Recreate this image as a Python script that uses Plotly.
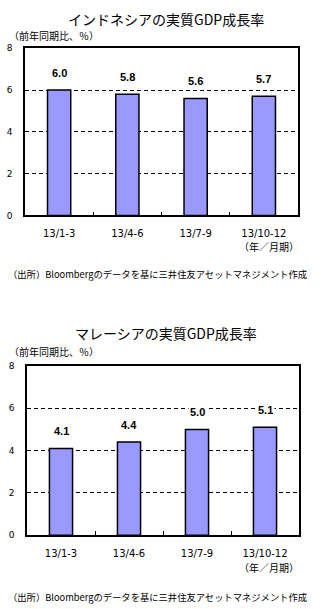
import plotly.graph_objects as go

categories = ["13/1-3", "13/4-6", "13/7-9", "13/10-12"]
indonesia = [6.0, 5.8, 5.6, 5.7]
malaysia = [4.1, 4.4, 5.0, 5.1]
titles = ["インドネシアの実質GDP成長率", "マレーシアの実質GDP成長率"]
unit_label = "（前年同期比、％）"
period_label = "（年／月期）"
source_label = "（出所）Bloombergのデータを基に三井住友アセットマネジメント作成"

W, H = 333, 609
JP = "Noto Sans CJK JP"
BAR = "#9999FF"

def py(px):
    return 1 - px / H

def pxx(px):
    return px / W

fig = go.Figure()

panels = [
    dict(vals=indonesia, xa="x", ya="y", xd=[pxx(25), pxx(298)], yd=[py(214), py(44)],
         title_y=14, unit_y=31, period_y=246, src_y=273),
    dict(vals=malaysia, xa="x2", ya="y2", xd=[pxx(27), pxx(299)], yd=[py(539), py(367)],
         title_y=333, unit_y=352, period_y=572, src_y=602),
]

annotations = []
for i, p in enumerate(panels):
    fig.add_trace(go.Bar(
        x=categories, y=p["vals"], xaxis=p["xa"], yaxis=p["ya"],
        width=0.34, marker=dict(color=BAR, line=dict(color="black", width=1.5)),
        showlegend=False, hoverinfo="skip",
    ))
    for c, v in zip(categories, p["vals"]):
        annotations.append(dict(
            x=c, y=v, xref=p["xa"], yref=p["ya"], text=f"<b>{v:.1f}</b>",
            showarrow=False, yshift=17, yanchor="middle", bgcolor="white", borderpad=1,
            font=dict(family="Liberation Sans, Arial", size=11, color="black"),
        ))
    annotations.append(dict(x=pxx(166), y=py(p["title_y"]), xref="paper", yref="paper",
                            text=titles[i], showarrow=False, xanchor="center", yanchor="middle",
                            font=dict(family=JP, size=14, color="black")))
    annotations.append(dict(x=pxx(7), y=py(p["unit_y"]), xref="paper", yref="paper",
                            text=unit_label, showarrow=False, xanchor="left", yanchor="middle",
                            font=dict(family=JP, size=10, color="black")))
    annotations.append(dict(x=pxx(301), y=py(p["period_y"]), xref="paper", yref="paper",
                            text=period_label, showarrow=False, xanchor="right", yanchor="middle",
                            font=dict(family=JP, size=10, color="black")))
    annotations.append(dict(x=pxx(6), y=py(p["src_y"]), xref="paper", yref="paper",
                            text=source_label, showarrow=False, xanchor="left", yanchor="middle",
                            font=dict(family=JP, size=9.3, color="black")))

axis_common_x = dict(
    type="category", showline=True, linecolor="black", linewidth=1.5, mirror=True,
    ticks="inside", ticklen=4, tickcolor="black", tickwidth=1, tickson="boundaries",
    showgrid=False, ticklabelstandoff=8,
    tickfont=dict(family="DejaVu Sans", size=10, color="black"),
)
axis_common_y = dict(
    range=[0, 8], dtick=2, showline=True, linecolor="black", linewidth=1.5, mirror=True,
    showgrid=True, gridcolor="black", gridwidth=1, griddash="4px,3px", ticks="",
    zeroline=False, ticklabelstandoff=9,
    tickfont=dict(family="DejaVu Sans", size=9, color="black"),
)

fig.update_layout(
    width=W, height=H, margin=dict(l=0, r=0, t=0, b=0),
    paper_bgcolor="white", plot_bgcolor="white",
    bargap=0.66,
    xaxis=dict(domain=panels[0]["xd"], anchor="y", **axis_common_x),
    yaxis=dict(domain=panels[0]["yd"], anchor="x", **axis_common_y),
    xaxis2=dict(domain=panels[1]["xd"], anchor="y2", **axis_common_x),
    yaxis2=dict(domain=panels[1]["yd"], anchor="x2", **axis_common_y),
    annotations=annotations,
)

fig.write_html("out.html")
